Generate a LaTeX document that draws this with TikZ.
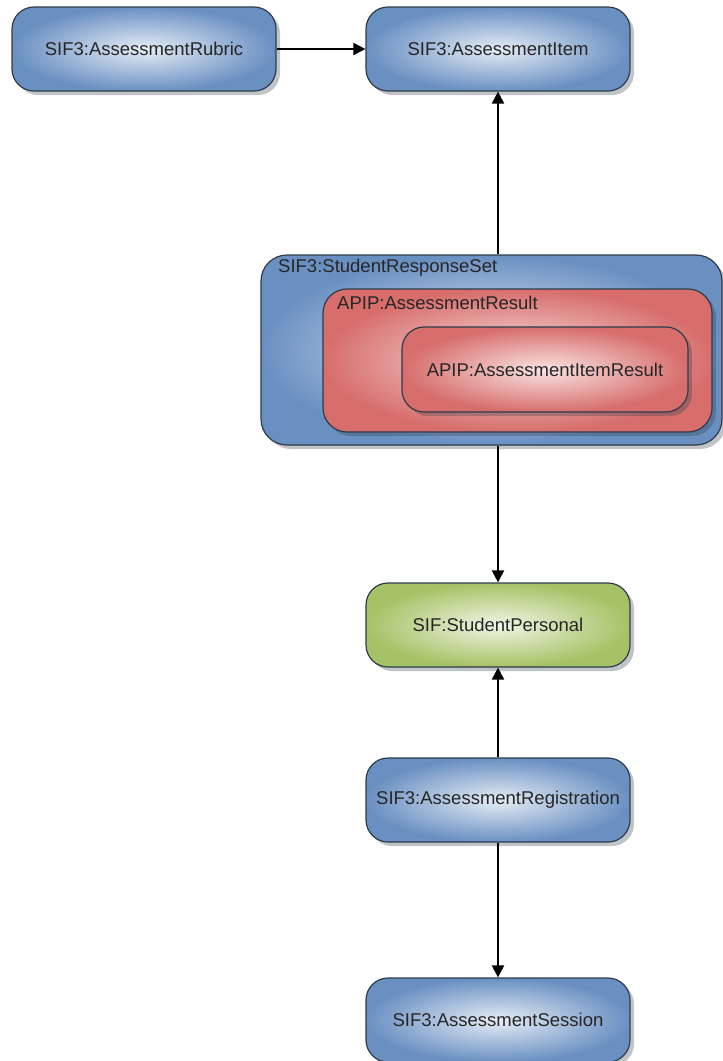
\documentclass[tikz,border=0pt]{standalone}
\usepackage{fontspec}
\setmainfont{Liberation Sans}
\usetikzlibrary{arrows.meta,shadows}
\definecolor{objblue}{HTML}{6A90C2}
\definecolor{objbluein}{HTML}{E6EDF6}
\definecolor{objred}{HTML}{D76E6C}
\definecolor{objredin}{HTML}{F9E4E3}
\definecolor{objgreen}{HTML}{A6C266}
\definecolor{objgreenin}{HTML}{F1F5E6}
\definecolor{objedge}{HTML}{2E3B4A}
\begin{document}
\begin{tikzpicture}[x=1pt,y=-1pt,
    obj/.style={draw=objedge, line width=1.2pt, rounded corners=22pt,
        minimum width=264pt, minimum height=84pt,
        inner color=objbluein, outer color=objblue,
        drop shadow={shadow xshift=4pt, shadow yshift=-4pt, fill=objedge, opacity=.3},
        font=\fontsize{18.5}{22}\selectfont, text=black!85},
    redobj/.style={obj, inner color=objredin, outer color=objred},
    greenobj/.style={obj, inner color=objgreenin, outer color=objgreen},
    objlabel/.style={anchor=west, inner sep=0pt, font=\fontsize{18.5}{22}\selectfont, text=black!85},
    link/.style={line width=2pt, -{Triangle[length=12pt,width=12pt]}}]
    \useasboundingbox (0,0) rectangle (723,1061);
    \node [obj] (rubric) at (144,49) {SIF3:AssessmentRubric};
    \node [obj] (item) at (498,49) {SIF3:AssessmentItem};
    \node [obj, minimum width=461pt, minimum height=190pt, rounded corners=26pt] (responseset) at (491.5,350) {};
    \node [objlabel] (responsesetlabel) at (278,268) {SIF3:StudentResponseSet};
    \node [redobj, minimum width=389pt, minimum height=143pt, rounded corners=24pt] (result) at (517.5,360.5) {};
    \node [objlabel] (resultlabel) at (337,303) {APIP:AssessmentResult};
    \node [redobj, minimum width=286pt, minimum height=85pt] (itemresult) at (545,369.5) {APIP:AssessmentItemResult};
    \node [greenobj] (personal) at (498,625) {SIF:StudentPersonal};
    \node [obj] (registration) at (498,800) {SIF3:AssessmentRegistration};
    \node [obj] (session) at (498,1020) {SIF3:AssessmentSession};
    \draw [link] (rubric) -- (item);
    \draw [link] (responseset.north -| item.south) -- (item.south);
    \draw [link] (responseset.south -| personal.north) -- (personal.north);
    \draw [link] (registration) -- (personal);
    \draw [link] (registration) -- (session);
\end{tikzpicture}
\end{document}
